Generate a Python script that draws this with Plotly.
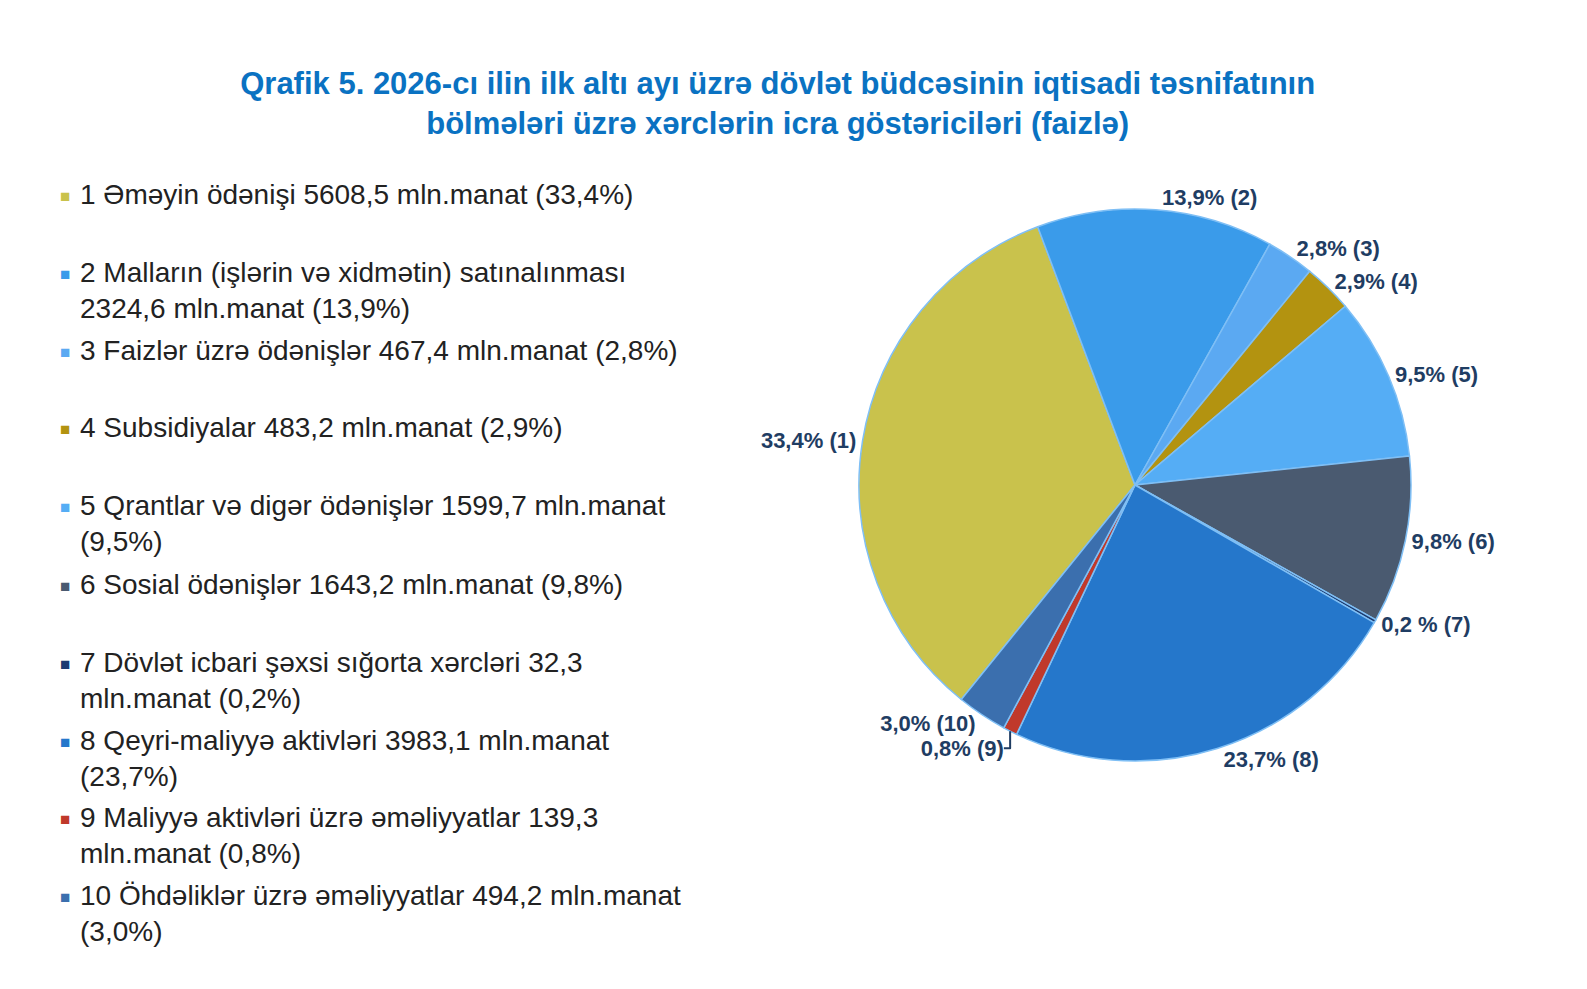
import plotly.graph_objects as go

W, H = 1587, 989

nums = ["1", "2", "3", "4", "5", "6", "7", "8", "9", "10"]
values = [5608.5, 2324.6, 467.4, 483.2, 1599.7, 1643.2, 32.3, 3983.1, 139.3, 494.2]
pct_text = ["33,4% (1)", "13,9% (2)", "2,8% (3)", "2,9% (4)", "9,5% (5)",
            "9,8% (6)", "0,2 % (7)", "23,7% (8)", "0,8% (9)", "3,0% (10)"]
legend_text = [
    "1 Əməyin ödənişi 5608,5 mln.manat (33,4%)",
    "2 Malların (işlərin və xidmətin) satınalınması<br>2324,6 mln.manat (13,9%)",
    "3 Faizlər üzrə ödənişlər 467,4 mln.manat (2,8%)",
    "4 Subsidiyalar 483,2 mln.manat (2,9%)",
    "5 Qrantlar və digər ödənişlər 1599,7 mln.manat<br>(9,5%)",
    "6 Sosial ödənişlər 1643,2 mln.manat (9,8%)",
    "7 Dövlət icbari şəxsi sığorta xərcləri 32,3<br>mln.manat (0,2%)",
    "8 Qeyri-maliyyə aktivləri 3983,1 mln.manat<br>(23,7%)",
    "9 Maliyyə aktivləri üzrə əməliyyatlar 139,3<br>mln.manat (0,8%)",
    "10 Öhdəliklər üzrə əməliyyatlar 494,2 mln.manat<br>(3,0%)",
]
colors = ["#C9C24C", "#3A9BEA", "#5BA9F2", "#B39310", "#55ADF5",
          "#4A5A70", "#1C3B70", "#2577CB", "#C0392B", "#3B6FAE"]
legend_y = [187, 265, 343, 420, 498, 577, 655, 733, 810, 888]

cx, cy, r = 1127, 477, 276
fig = go.Figure(go.Pie(
    values=values, labels=nums, text=pct_text, sort=False, direction="clockwise",
    rotation=-141, texttemplate="<b>%{text}</b>", textposition="outside",
    textfont=dict(family="Arial", size=22, color="#1F3D63"),
    marker=dict(colors=colors, line=dict(color="#7FBFF5", width=1.5)),
    domain=dict(x=[(cx - r) / W, (cx + r) / W], y=[1 - (cy + r) / H, 1 - (cy - r) / H]),
    showlegend=False,
))

for t, c, y in zip(legend_text, colors, legend_y):
    fig.add_annotation(x=50 / W, y=1 - y / H, xref="paper", yref="paper", text="■",
                       showarrow=False, xanchor="left", yanchor="middle",
                       font=dict(size=17, color=c))
    fig.add_annotation(x=70 / W, y=1 - (y - 18) / H, xref="paper", yref="paper", text=t,
                       showarrow=False, xanchor="left", yanchor="top", align="left",
                       font=dict(family="Arial", size=28, color="#222222"))

fig.update_layout(
    width=W, height=H, margin=dict(l=0, r=0, t=0, b=0),
    paper_bgcolor="white", plot_bgcolor="white",
    title=dict(text="<b>Qrafik 5. 2026-cı ilin ilk altı ayı üzrə dövlət büdcəsinin iqtisadi təsnifatının<br>bölmələri üzrə xərclərin icra göstəriciləri (faizlə)</b>",
               x=0.485, xanchor="center", y=1 - 86 / H, yanchor="middle",
               font=dict(family="Arial", size=31, color="#0A72C2")),
)
fig.write_html("out.html")
